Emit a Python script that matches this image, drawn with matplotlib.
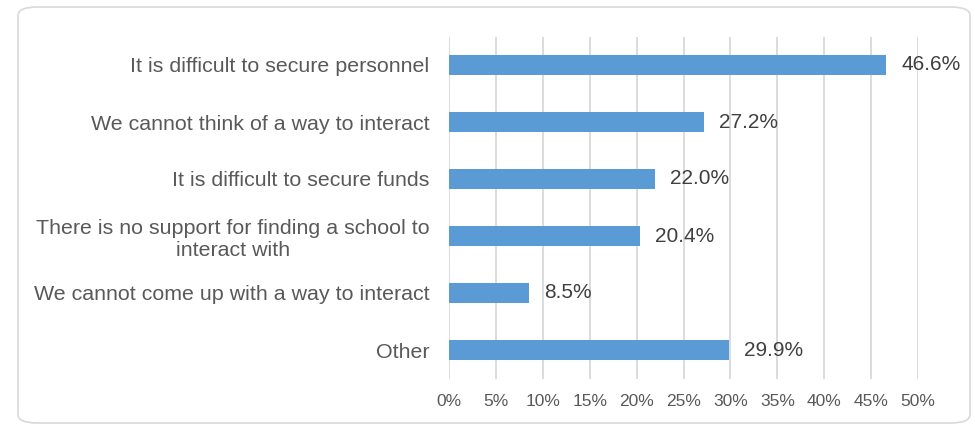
import matplotlib.pyplot as plt
from matplotlib.patches import FancyBboxPatch

categories = [
    "It is difficult to secure personnel",
    "We cannot think of a way to interact",
    "It is difficult to secure funds",
    "There is no support for finding a school to\ninteract with",
    "We cannot come up with a way to interact",
    "Other",
]
values = [46.6, 27.2, 22.0, 20.4, 8.5, 29.9]
xticks = [0, 5, 10, 15, 20, 25, 30, 35, 40, 45, 50]

plt.rcParams['font.family'] = ['Liberation Sans', 'DejaVu Sans']

fig = plt.figure(figsize=(9.75, 4.24), dpi=100)
fig.patch.set_facecolor('white')

# rounded frame around the whole chart
frame = FancyBboxPatch((18 / 975, 1 - 423 / 424), (970 - 18) / 975, (423 - 7) / 424,
                       boxstyle="round,pad=0,rounding_size=0.02",
                       transform=fig.transFigure, facecolor='none',
                       edgecolor='#d9d9d9', linewidth=1.2, zorder=-1)
fig.patches.append(frame)

ax = fig.add_axes([449 / 975, 1 - 378.5 / 424, (918 - 449) / 975, (378.5 - 36.5) / 424])
ax.set_facecolor('none')

ypos = list(range(len(categories)))
ax.barh(ypos, values, height=0.35, color='#5b9bd5', zorder=3)
for y, v in zip(ypos, values):
    ax.text(v + 1.6, y, f"{v:.1f}%", va='center', ha='left',
            fontsize=15, color='#404040', zorder=4)

ax.set_ylim(len(categories) - 0.5, -0.5)
ax.set_xlim(0, 50)
ax.set_yticks(ypos)
ax.set_yticklabels(categories, fontsize=15.4, color='#595959',
                   multialignment='center', linespacing=1.2)
ax.set_xticks(xticks)
ax.set_xticklabels([f"{t}%" for t in xticks], fontsize=12.5, color='#595959')
ax.tick_params(axis='both', length=0)
ax.tick_params(axis='y', pad=14)
ax.tick_params(axis='x', pad=11)

ax.grid(axis='x', color='#d9d9d9', linewidth=1.3, zorder=0)
for s in ax.spines.values():
    s.set_visible(False)

fig.savefig('out.png', dpi=100)
